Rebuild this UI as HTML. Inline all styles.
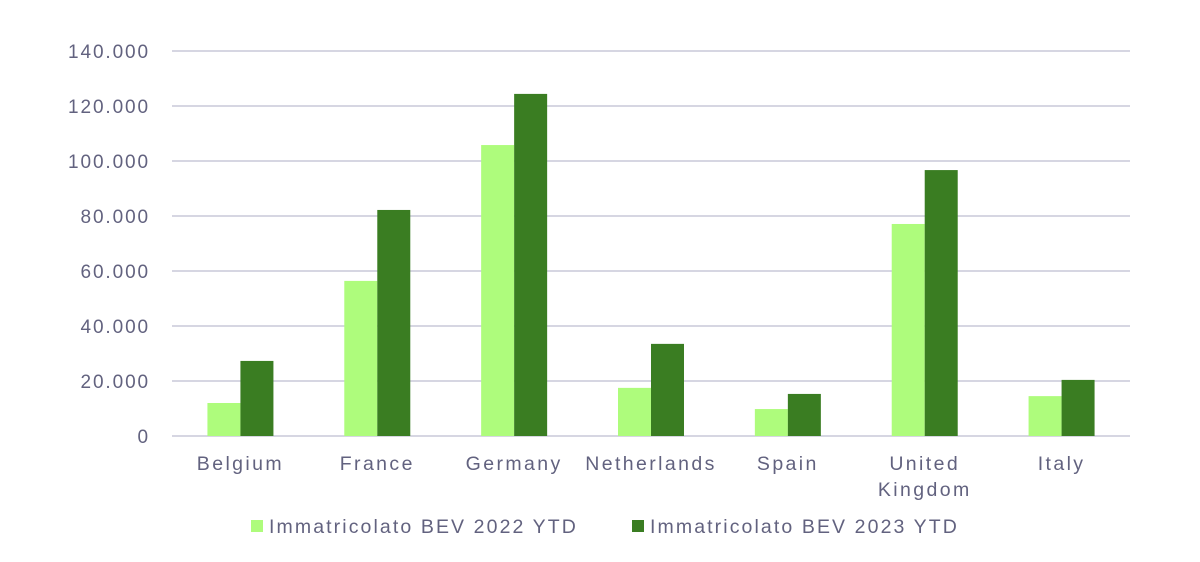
<!DOCTYPE html>
<html><head><meta charset="utf-8"><style>
body{margin:0;background:#fff;}
svg text{font-family:"Liberation Sans",sans-serif;fill:#62627f;}
</style></head><body>
<svg id="chart" width="1200" height="557" xmlns="http://www.w3.org/2000/svg"></svg>
<script>
const categories=["Belgium","France","Germany","Netherlands","Spain","United|Kingdom","Italy"];
const series2022=[12000,56400,105800,17500,9800,77100,14500];
const series2023=[27300,82200,124400,33500,15300,96700,20400];
const yTicks=[0,20000,40000,60000,80000,100000,120000,140000];
const yTickLabels=["0","20.000","40.000","60.000","80.000","100.000","120.000","140.000"];
const svg=document.getElementById('chart');
const NS="http://www.w3.org/2000/svg";
const x0=172,x1=1130,yBase=436,yTop=51,yMax=140000;
const y=v=>yBase-(v/yMax)*(yBase-yTop);
const band=(x1-x0)/categories.length;
const cx=i=>x0+band*(i+0.5);
function mk(t,a){const e=document.createElementNS(NS,t);for(const k in a)e.setAttribute(k,a[k]);svg.appendChild(e);return e;}
yTicks.forEach((v,i)=>{
 const g=mk('line',{x1:x0,x2:x1,y1:y(v),y2:y(v),stroke:'#aeaec6','stroke-width':1});
 
 
 const t=mk('text',{x:150,y:y(v)+7,'text-anchor':'end','font-size':19,'letter-spacing':1.9});
 t.textContent=yTickLabels[i];
 
 
});
const bw=33;
categories.forEach((c,i)=>{
 const b1=mk('rect',{x:cx(i)-bw,y:y(series2022[i]),width:bw,height:yBase-y(series2022[i]),fill:'#aefc7c'});
 
 
 const b2=mk('rect',{x:cx(i),y:y(series2023[i]),width:bw,height:yBase-y(series2023[i]),fill:'#3a7d22'});
 
 
 c.split('|').forEach((line,j)=>{
  const t=mk('text',{x:cx(i),y:470+j*26,'text-anchor':'middle','font-size':19.5,'letter-spacing':2.4});
  t.textContent=line;
  
  
 });
});
const lg=[["#aefc7c","Immatricolato BEV 2022 YTD",251],["#3a7d22","Immatricolato BEV 2023 YTD",632]];
lg.forEach(l=>{
 const r=mk('rect',{x:l[2],y:520,width:12,height:12,fill:l[0]});
 
 
 const t=mk('text',{x:l[2]+18,y:533,'font-size':19.5,'letter-spacing':2.1});
 t.textContent=l[1];
 
 
});
</script>
</body></html>
